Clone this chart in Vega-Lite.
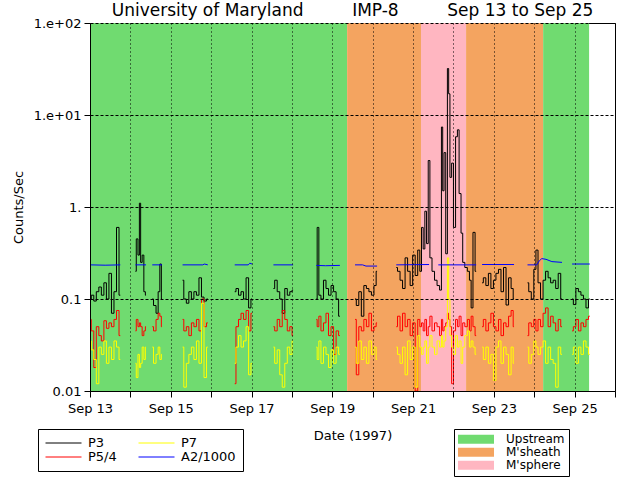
{
"$schema": "https://vega.github.io/schema/vega-lite/v6.json",
"width": 525, "height": 368,
"autosize": {"type": "none"},
"padding": {"left": 90, "top": 23, "right": 25, "bottom": 89},
"background": "white",
"title": {"text": "University of Maryland\u00a0\u00a0\u00a0\u00a0\u00a0\u00a0\u00a0\u00a0\u00a0IMP-8\u00a0\u00a0\u00a0\u00a0\u00a0\u00a0\u00a0\u00a0\u00a0Sep 13 to Sep 25", "font": "DejaVu Sans", "fontSize": 17, "fontWeight": "normal", "color": "black", "anchor": "middle", "offset": -3},
"config": {"view": {"stroke": "black", "strokeWidth": 1}, "font": "DejaVu Sans",
  "axis": {"labelFont": "DejaVu Sans", "titleFont": "DejaVu Sans", "labelColor": "black", "titleColor": "black", "tickColor": "black", "domainColor": "black", "titleFontWeight": "normal", "labelFontSize": 13, "titleFontSize": 13},
  "legend": {"labelFont": "DejaVu Sans", "labelColor": "black"}},
"datasets": {
"regionsData": [
{"start": "1997-09-13T00:00", "end": "1997-09-19T08:48", "region": "Upstream"},
{"start": "1997-09-19T08:48", "end": "1997-09-21T04:42", "region": "M'sheath"},
{"start": "1997-09-21T04:42", "end": "1997-09-22T07:30", "region": "M'sphere"},
{"start": "1997-09-22T07:30", "end": "1997-09-24T05:18", "region": "M'sheath"},
{"start": "1997-09-24T05:18", "end": "1997-09-25T08:36", "region": "Upstream"}
],
"protonData": [
{"t":"1997-09-13T00:00","k":"A","P3":0.10,"P5/4":0.06,"P7":0.035},
{"t":"1997-09-13T01:30","k":"A","P3":0.11,"P5/4":0.045,"P7":0.028},
{"t":"1997-09-13T03:00","k":"A","P3":0.095,"P5/4":0.018,"P7":0.022},
{"t":"1997-09-13T04:30","k":"A","P3":0.12,"P5/4":0.05,"P7":0.012},
{"t":"1997-09-13T06:00","k":"A","P3":0.135,"P5/4":0.04,"P7":0.03},
{"t":"1997-09-13T07:30","k":"A","P3":0.11,"P5/4":0.035,"P7":0.025},
{"t":"1997-09-13T09:00","k":"A","P3":0.15,"P5/4":0.058,"P7":0.035},
{"t":"1997-09-13T10:30","k":"A","P3":0.10,"P5/4":0.048,"P7":0.02},
{"t":"1997-09-13T12:00","k":"A","P3":0.19,"P5/4":0.055,"P7":0.03},
{"t":"1997-09-13T13:30","k":"A","P3":0.07,"P5/4":0.05,"P7":0.022},
{"t":"1997-09-13T15:00","k":"A","P3":0.12,"P5/4":0.06,"P7":0.035},
{"t":"1997-09-13T16:30","k":"A","P3":0.6,"P5/4":0.075,"P7":0.03},
{"t":"1997-09-13T18:00","k":"A","P3":0.11,"P5/4":0.04,"P7":0.022},
{"t":"1997-09-14T03:00","k":"B1","P3":0.2,"P5/4":0.045,"P7":0.02},
{"t":"1997-09-14T04:00","k":"B1","P3":0.45,"P5/4":0.06,"P7":0.014},
{"t":"1997-09-14T05:00","k":"B1","P3":0.3,"P5/4":0.05,"P7":0.025},
{"t":"1997-09-14T05:42","k":"B1","P3":1.1,"P5/4":0.055,"P7":0.018},
{"t":"1997-09-14T06:30","k":"B1","P3":0.25,"P5/4":0.05,"P7":0.02},
{"t":"1997-09-14T07:30","k":"B1","P3":0.3,"P5/4":0.04,"P7":0.03},
{"t":"1997-09-14T08:30","k":"B1","P3":0.12,"P5/4":0.045,"P7":0.022},
{"t":"1997-09-14T09:18","k":"B1","P3":0.11,"P5/4":0.05,"P7":0.03},
{"t":"1997-09-14T13:00","k":"B2","P3":0.1,"P5/4":0.05,"P7":0.03},
{"t":"1997-09-14T14:30","k":"B2","P3":0.085,"P5/4":0.045,"P7":0.02},
{"t":"1997-09-14T16:00","k":"B2","P3":0.07,"P5/4":0.06,"P7":0.025},
{"t":"1997-09-14T17:00","k":"B2","P3":0.12,"P5/4":0.07,"P7":0.03},
{"t":"1997-09-14T18:00","k":"B2","P3":0.24,"P5/4":0.065,"P7":0.022},
{"t":"1997-09-14T18:48","k":"B2","P3":0.1,"P5/4":0.05,"P7":0.025},
{"t":"1997-09-15T07:00","k":"C","P3":0.16,"P5/4":0.06,"P7":0.03},
{"t":"1997-09-15T08:30","k":"C","P3":0.1,"P5/4":0.045,"P7":0.011},
{"t":"1997-09-15T10:00","k":"C","P3":0.09,"P5/4":0.05,"P7":0.02},
{"t":"1997-09-15T11:30","k":"C","P3":0.12,"P5/4":0.04,"P7":0.025},
{"t":"1997-09-15T13:00","k":"C","P3":0.1,"P5/4":0.055,"P7":0.03},
{"t":"1997-09-15T14:30","k":"C","P3":0.12,"P5/4":0.05,"P7":0.022},
{"t":"1997-09-15T16:00","k":"C","P3":0.11,"P5/4":0.06,"P7":0.035},
{"t":"1997-09-15T17:30","k":"C","P3":0.17,"P5/4":0.045,"P7":0.02},
{"t":"1997-09-15T19:00","k":"C","P3":0.105,"P5/4":0.1,"P7":0.09},
{"t":"1997-09-15T20:30","k":"C","P3":0.095,"P5/4":0.05,"P7":0.014},
{"t":"1997-09-15T22:00","k":"C","P3":0.1,"P5/4":0.055,"P7":0.03},
{"t":"1997-09-16T14:00","k":"D","P3":0.12,"P5/4":0.012,"P7":0.02},
{"t":"1997-09-16T15:30","k":"D","P3":0.13,"P5/4":0.05,"P7":0.03},
{"t":"1997-09-16T17:00","k":"D","P3":0.11,"P5/4":0.06,"P7":0.04},
{"t":"1997-09-16T18:30","k":"D","P3":0.12,"P5/4":0.07,"P7":0.03},
{"t":"1997-09-16T20:00","k":"D","P3":0.1,"P5/4":0.06,"P7":0.035},
{"t":"1997-09-16T21:30","k":"D","P3":0.17,"P5/4":0.075,"P7":0.05},
{"t":"1997-09-16T23:00","k":"D","P3":0.08,"P5/4":0.045,"P7":0.015},
{"t":"1997-09-17T00:18","k":"D","P3":0.1,"P5/4":0.07,"P7":0.02},
{"t":"1997-09-17T13:00","k":"E","P3":0.13,"P5/4":0.05,"P7":0.03},
{"t":"1997-09-17T14:30","k":"E","P3":0.16,"P5/4":0.045,"P7":0.02},
{"t":"1997-09-17T16:00","k":"E","P3":0.12,"P5/4":0.06,"P7":0.028},
{"t":"1997-09-17T17:30","k":"E","P3":0.1,"P5/4":0.05,"P7":0.015},
{"t":"1997-09-17T19:00","k":"E","P3":0.07,"P5/4":0.075,"P7":0.011},
{"t":"1997-09-17T20:30","k":"E","P3":0.13,"P5/4":0.06,"P7":0.02},
{"t":"1997-09-17T22:00","k":"E","P3":0.11,"P5/4":0.045,"P7":0.03},
{"t":"1997-09-17T23:30","k":"E","P3":0.12,"P5/4":0.05,"P7":0.025},
{"t":"1997-09-18T00:42","k":"E","P3":0.125,"P5/4":0.04,"P7":0.035},
{"t":"1997-09-18T14:30","k":"F","P3":0.1,"P5/4":0.06,"P7":0.03},
{"t":"1997-09-18T15:30","k":"F","P3":0.6,"P5/4":0.05,"P7":0.022},
{"t":"1997-09-18T16:30","k":"F","P3":0.11,"P5/4":0.065,"P7":0.035},
{"t":"1997-09-18T18:00","k":"F","P3":0.1,"P5/4":0.045,"P7":0.02},
{"t":"1997-09-18T19:30","k":"F","P3":0.16,"P5/4":0.055,"P7":0.03},
{"t":"1997-09-18T21:00","k":"F","P3":0.13,"P5/4":0.07,"P7":0.025},
{"t":"1997-09-18T22:30","k":"F","P3":0.11,"P5/4":0.04,"P7":0.018},
{"t":"1997-09-19T00:00","k":"F","P3":0.14,"P5/4":0.05,"P7":0.028},
{"t":"1997-09-19T01:30","k":"F","P3":0.12,"P5/4":0.025,"P7":0.02},
{"t":"1997-09-19T03:00","k":"F","P3":0.1,"P5/4":0.045,"P7":0.03},
{"t":"1997-09-19T04:30","k":"F","P3":0.065,"P5/4":0.04,"P7":0.025},
{"t":"1997-09-19T13:30","k":"G","P3":0.1,"P5/4":0.06,"P7":0.03},
{"t":"1997-09-19T15:00","k":"G","P3":0.085,"P5/4":0.015,"P7":0.02},
{"t":"1997-09-19T16:30","k":"G","P3":0.12,"P5/4":0.05,"P7":0.035},
{"t":"1997-09-19T18:00","k":"G","P3":0.065,"P5/4":0.045,"P7":0.022},
{"t":"1997-09-19T19:30","k":"G","P3":0.14,"P5/4":0.06,"P7":0.03},
{"t":"1997-09-19T21:00","k":"G","P3":0.13,"P5/4":0.05,"P7":0.02},
{"t":"1997-09-19T22:30","k":"G","P3":0.12,"P5/4":0.07,"P7":0.035},
{"t":"1997-09-20T00:00","k":"G","P3":0.11,"P5/4":0.045,"P7":0.025},
{"t":"1997-09-20T01:30","k":"G","P3":0.14,"P5/4":0.05,"P7":0.03},
{"t":"1997-09-20T02:36","k":"G","P3":0.2,"P5/4":0.055,"P7":0.022},
{"t":"1997-09-20T14:00","k":"H","P3":0.22,"P5/4":0.05,"P7":0.03},
{"t":"1997-09-20T15:30","k":"H","P3":0.2,"P5/4":0.065,"P7":0.025},
{"t":"1997-09-20T17:00","k":"H","P3":0.16,"P5/4":0.045,"P7":0.02},
{"t":"1997-09-20T18:30","k":"H","P3":0.13,"P5/4":0.07,"P7":0.03},
{"t":"1997-09-20T20:00","k":"H","P3":0.28,"P5/4":0.05,"P7":0.015},
{"t":"1997-09-20T21:30","k":"H","P3":0.2,"P5/4":0.06,"P7":0.035},
{"t":"1997-09-20T23:00","k":"H","P3":0.14,"P5/4":0.04,"P7":0.022},
{"t":"1997-09-21T00:30","k":"H","P3":0.3,"P5/4":0.055,"P7":0.03},
{"t":"1997-09-21T02:00","k":"H","P3":0.18,"P5/4":0.01,"P7":0.011},
{"t":"1997-09-21T03:30","k":"H","P3":0.34,"P5/4":0.06,"P7":0.04},
{"t":"1997-09-21T04:30","k":"H","P3":0.2,"P5/4":0.05,"P7":0.03},
{"t":"1997-09-21T05:30","k":"H","P3":0.6,"P5/4":0.055,"P7":0.025},
{"t":"1997-09-21T06:30","k":"H","P3":0.35,"P5/4":0.045,"P7":0.03},
{"t":"1997-09-21T07:30","k":"H","P3":0.9,"P5/4":0.06,"P7":0.035},
{"t":"1997-09-21T08:30","k":"H","P3":0.4,"P5/4":0.04,"P7":0.02},
{"t":"1997-09-21T09:30","k":"H","P3":3.2,"P5/4":0.05,"P7":0.03},
{"t":"1997-09-21T10:30","k":"H","P3":0.28,"P5/4":0.065,"P7":0.04},
{"t":"1997-09-21T12:00","k":"H","P3":0.2,"P5/4":0.045,"P7":0.03},
{"t":"1997-09-21T13:30","k":"H","P3":0.16,"P5/4":0.055,"P7":0.025},
{"t":"1997-09-21T15:00","k":"H","P3":0.14,"P5/4":0.05,"P7":0.035},
{"t":"1997-09-21T16:30","k":"H","P3":0.125,"P5/4":0.04,"P7":0.03},
{"t":"1997-09-21T17:12","k":"H","P3":7.4,"P5/4":0.06,"P7":0.04},
{"t":"1997-09-21T18:00","k":"H","P3":1.5,"P5/4":0.045,"P7":0.03},
{"t":"1997-09-21T18:48","k":"H","P3":3.9,"P5/4":0.05,"P7":0.035},
{"t":"1997-09-21T20:00","k":"H","P3":0.31,"P5/4":0.055,"P7":0.05},
{"t":"1997-09-21T20:48","k":"H","P3":32,"P5/4":0.07,"P7":0.28},
{"t":"1997-09-21T21:30","k":"H","P3":17,"P5/4":0.06,"P7":0.1},
{"t":"1997-09-21T22:18","k":"H","P3":2.1,"P5/4":0.05,"P7":0.04},
{"t":"1997-09-21T23:30","k":"H","P3":3,"P5/4":0.012,"P7":0.03},
{"t":"1997-09-22T00:30","k":"H","P3":0.6,"P5/4":0.045,"P7":0.025},
{"t":"1997-09-22T02:00","k":"H","P3":5.8,"P5/4":0.06,"P7":0.04},
{"t":"1997-09-22T02:42","k":"H","P3":6.9,"P5/4":0.05,"P7":0.03},
{"t":"1997-09-22T04:00","k":"H","P3":1.4,"P5/4":0.065,"P7":0.035},
{"t":"1997-09-22T05:00","k":"H","P3":0.52,"P5/4":0.04,"P7":0.02},
{"t":"1997-09-22T06:00","k":"H","P3":0.25,"P5/4":0.055,"P7":0.03},
{"t":"1997-09-22T07:30","k":"H","P3":0.22,"P5/4":0.05,"P7":0.04},
{"t":"1997-09-22T09:00","k":"H","P3":0.2,"P5/4":0.06,"P7":0.045},
{"t":"1997-09-22T10:00","k":"H","P3":0.16,"P5/4":0.045,"P7":0.03},
{"t":"1997-09-22T11:00","k":"H","P3":0.08,"P5/4":0.065,"P7":0.035},
{"t":"1997-09-22T12:12","k":"H","P3":0.53,"P5/4":0.05,"P7":0.03},
{"t":"1997-09-22T13:30","k":"H","P3":0.2,"P5/4":0.04,"P7":0.025},
{"t":"1997-09-22T17:00","k":"I","P3":0.15,"P5/4":0.05,"P7":0.03},
{"t":"1997-09-22T18:30","k":"I","P3":0.17,"P5/4":0.06,"P7":0.022},
{"t":"1997-09-22T20:00","k":"I","P3":0.14,"P5/4":0.045,"P7":0.03},
{"t":"1997-09-22T21:30","k":"I","P3":0.19,"P5/4":0.055,"P7":0.02},
{"t":"1997-09-22T23:00","k":"I","P3":0.13,"P5/4":0.07,"P7":0.025},
{"t":"1997-09-23T00:30","k":"I","P3":0.16,"P5/4":0.05,"P7":0.013},
{"t":"1997-09-23T02:00","k":"I","P3":0.19,"P5/4":0.045,"P7":0.03},
{"t":"1997-09-23T03:30","k":"I","P3":0.21,"P5/4":0.06,"P7":0.035},
{"t":"1997-09-23T05:00","k":"I","P3":0.12,"P5/4":0.04,"P7":0.02},
{"t":"1997-09-23T06:30","k":"I","P3":0.22,"P5/4":0.055,"P7":0.03},
{"t":"1997-09-23T08:00","k":"I","P3":0.086,"P5/4":0.05,"P7":0.025},
{"t":"1997-09-23T09:30","k":"I","P3":0.17,"P5/4":0.065,"P7":0.015},
{"t":"1997-09-23T11:00","k":"I","P3":0.13,"P5/4":0.075,"P7":0.03},
{"t":"1997-09-23T12:00","k":"I","P3":0.1,"P5/4":0.05,"P7":0.02},
{"t":"1997-09-23T20:00","k":"J","P3":0.15,"P5/4":0.04,"P7":0.03},
{"t":"1997-09-23T21:30","k":"J","P3":0.12,"P5/4":0.055,"P7":0.02},
{"t":"1997-09-23T23:00","k":"J","P3":0.1,"P5/4":0.05,"P7":0.025},
{"t":"1997-09-24T00:30","k":"J","P3":0.21,"P5/4":0.06,"P7":0.035},
{"t":"1997-09-24T01:30","k":"J","P3":0.34,"P5/4":0.045,"P7":0.03},
{"t":"1997-09-24T03:00","k":"J","P3":0.15,"P5/4":0.06,"P7":0.025},
{"t":"1997-09-24T04:30","k":"J","P3":0.1,"P5/4":0.05,"P7":0.03},
{"t":"1997-09-24T06:00","k":"J","P3":0.16,"P5/4":0.07,"P7":0.035},
{"t":"1997-09-24T07:30","k":"J","P3":0.2,"P5/4":0.08,"P7":0.02},
{"t":"1997-09-24T09:00","k":"J","P3":0.17,"P5/4":0.05,"P7":0.03},
{"t":"1997-09-24T10:30","k":"J","P3":0.15,"P5/4":0.065,"P7":0.022},
{"t":"1997-09-24T12:00","k":"J","P3":0.16,"P5/4":0.055,"P7":0.02},
{"t":"1997-09-24T13:30","k":"J","P3":0.13,"P5/4":0.045,"P7":0.011},
{"t":"1997-09-24T15:00","k":"J","P3":0.19,"P5/4":0.06,"P7":0.03},
{"t":"1997-09-24T16:30","k":"J","P3":0.1,"P5/4":0.05,"P7":0.025},
{"t":"1997-09-24T22:30","k":"K","P3":0.1,"P5/4":0.045,"P7":0.025},
{"t":"1997-09-25T00:00","k":"K","P3":0.087,"P5/4":0.05,"P7":0.03},
{"t":"1997-09-25T01:30","k":"K","P3":0.13,"P5/4":0.06,"P7":0.02},
{"t":"1997-09-25T03:00","k":"K","P3":0.12,"P5/4":0.045,"P7":0.03},
{"t":"1997-09-25T04:30","k":"K","P3":0.11,"P5/4":0.055,"P7":0.025},
{"t":"1997-09-25T06:00","k":"K","P3":0.1,"P5/4":0.05,"P7":0.035},
{"t":"1997-09-25T07:30","k":"K","P3":0.08,"P5/4":0.06,"P7":0.03},
{"t":"1997-09-25T09:00","k":"K","P3":0.1,"P5/4":0.065,"P7":0.025}
],
"alphaData": [
{"t":"1997-09-13T00:30","k":"A","A2/1000":0.235},
{"t":"1997-09-13T09:00","k":"A","A2/1000":0.233},
{"t":"1997-09-13T18:00","k":"A","A2/1000":0.235},
{"t":"1997-09-14T03:00","k":"B1","A2/1000":0.235},
{"t":"1997-09-14T09:18","k":"B1","A2/1000":0.235},
{"t":"1997-09-14T13:00","k":"B2","A2/1000":0.235},
{"t":"1997-09-14T18:48","k":"B2","A2/1000":0.235},
{"t":"1997-09-15T07:00","k":"C","A2/1000":0.235},
{"t":"1997-09-15T19:00","k":"C","A2/1000":0.235},
{"t":"1997-09-15T20:00","k":"C","A2/1000":0.24},
{"t":"1997-09-15T22:00","k":"C","A2/1000":0.235},
{"t":"1997-09-16T14:00","k":"D","A2/1000":0.235},
{"t":"1997-09-16T22:00","k":"D","A2/1000":0.235},
{"t":"1997-09-16T23:00","k":"D","A2/1000":0.245},
{"t":"1997-09-17T00:18","k":"D","A2/1000":0.24},
{"t":"1997-09-17T13:00","k":"E","A2/1000":0.235},
{"t":"1997-09-18T00:42","k":"E","A2/1000":0.235},
{"t":"1997-09-18T14:30","k":"F","A2/1000":0.232},
{"t":"1997-09-18T20:00","k":"F","A2/1000":0.23},
{"t":"1997-09-19T04:30","k":"F","A2/1000":0.232},
{"t":"1997-09-19T13:30","k":"G","A2/1000":0.235},
{"t":"1997-09-19T18:00","k":"G","A2/1000":0.235},
{"t":"1997-09-19T20:00","k":"G","A2/1000":0.228},
{"t":"1997-09-20T02:36","k":"G","A2/1000":0.228},
{"t":"1997-09-20T14:00","k":"H1","A2/1000":0.235},
{"t":"1997-09-21T09:30","k":"H1","A2/1000":0.237},
{"t":"1997-09-21T15:00","k":"H2","A2/1000":0.235},
{"t":"1997-09-22T13:30","k":"H2","A2/1000":0.235},
{"t":"1997-09-22T17:00","k":"I","A2/1000":0.237},
{"t":"1997-09-23T12:00","k":"I","A2/1000":0.237},
{"t":"1997-09-23T20:00","k":"J","A2/1000":0.235},
{"t":"1997-09-24T01:30","k":"J","A2/1000":0.235},
{"t":"1997-09-24T03:00","k":"J","A2/1000":0.26},
{"t":"1997-09-24T04:30","k":"J","A2/1000":0.275},
{"t":"1997-09-24T07:00","k":"J","A2/1000":0.27},
{"t":"1997-09-24T10:30","k":"J","A2/1000":0.255},
{"t":"1997-09-24T16:30","k":"J","A2/1000":0.25},
{"t":"1997-09-24T22:30","k":"K","A2/1000":0.24},
{"t":"1997-09-25T09:00","k":"K","A2/1000":0.24}
]
},
"layer": [
{
"data": {"name": "regionsData"},
"mark": {"type": "rect"},
"encoding": {
 "x": {"field": "start", "type": "temporal",
   "scale": {"domain": ["1997-09-13T00:00", "1997-09-26T00:00"], "nice": false},
   "axis": {"tickCount": {"interval": "day", "step": 1}, "tickSize": 6,
     "grid": true, "gridColor": "black", "gridDash": [1, 3],
     "labelExpr": "date(datum.value)%2==1 ? timeFormat(datum.value, '%b %d') : ''",
     "labelOverlap": false, "labelFlush": false, "labelPadding": 5,
     "title": "Date (1997)", "titlePadding": 14, "zindex": 1}},
 "x2": {"field": "end"},
 "fill": {"field": "region", "type": "nominal",
   "scale": {"domain": ["Upstream", "M'sheath", "M'sphere"], "range": ["#70db70", "#f4a460", "#ffb6c1"]},
   "legend": {"title": null, "orient": "none", "legendX": 364, "legendY": 406, "direction": "vertical",
     "strokeColor": "black", "fillColor": "white", "padding": 4,
     "symbolType": "M-1,-0.25H1V0.25H-1Z", "symbolSize": 1296, "symbolStrokeWidth": 0, "symbolOpacity": 1,
     "clipHeight": 12.5, "rowPadding": 0, "labelOffset": 12, "labelFontSize": 12}}
}
},
{
"data": {"name": "protonData"},
"transform": [{"fold": ["P3", "P5/4", "P7"], "as": ["series", "value"]}],
"mark": {"type": "line", "strokeWidth": 1, "interpolate": "step"},
"encoding": {
 "x": {"field": "t", "type": "temporal"},
 "y": {"field": "value", "type": "quantitative",
   "scale": {"type": "log", "domain": [0.01, 100], "nice": false},
   "axis": {"values": [0.01, 0.1, 1, 10, 100], "tickSize": 6,
     "labelExpr": "datum.value==100?'1.e+02':datum.value==10?'1.e+01':datum.value==1?'1.':datum.value==0.1?'0.1':'0.01'",
     "labelOverlap": false, "labelFlush": false, "labelPadding": 3,
     "grid": true, "gridColor": "black", "gridDash": [3, 2],
     "title": "Counts/Sec", "titlePadding": 8, "zindex": 1}},
 "stroke": {"field": "series", "type": "nominal",
   "scale": {"domain": ["P3", "P7", "P5/4", "A2/1000"], "range": ["black", "#ffff00", "#ff0000", "#0000ff"]},
   "legend": {"title": null, "orient": "none", "legendX": -52, "legendY": 406, "columns": 2, "direction": "horizontal",
     "strokeColor": "black", "fillColor": "white", "padding": 7,
     "symbolType": "stroke", "symbolSize": 1296, "symbolStrokeWidth": 1,
     "clipHeight": 14, "rowPadding": 0, "columnPadding": 21, "labelOffset": 6, "labelFontSize": 13}},
 "detail": {"field": "k", "type": "nominal"}
}
},
{
"data": {"name": "alphaData"},
"transform": [{"fold": ["A2/1000"], "as": ["series", "value"]}],
"mark": {"type": "line", "strokeWidth": 1},
"encoding": {
 "x": {"field": "t", "type": "temporal"},
 "y": {"field": "value", "type": "quantitative"},
 "stroke": {"field": "series", "type": "nominal"},
 "detail": {"field": "k", "type": "nominal"}
}
}
]
}
